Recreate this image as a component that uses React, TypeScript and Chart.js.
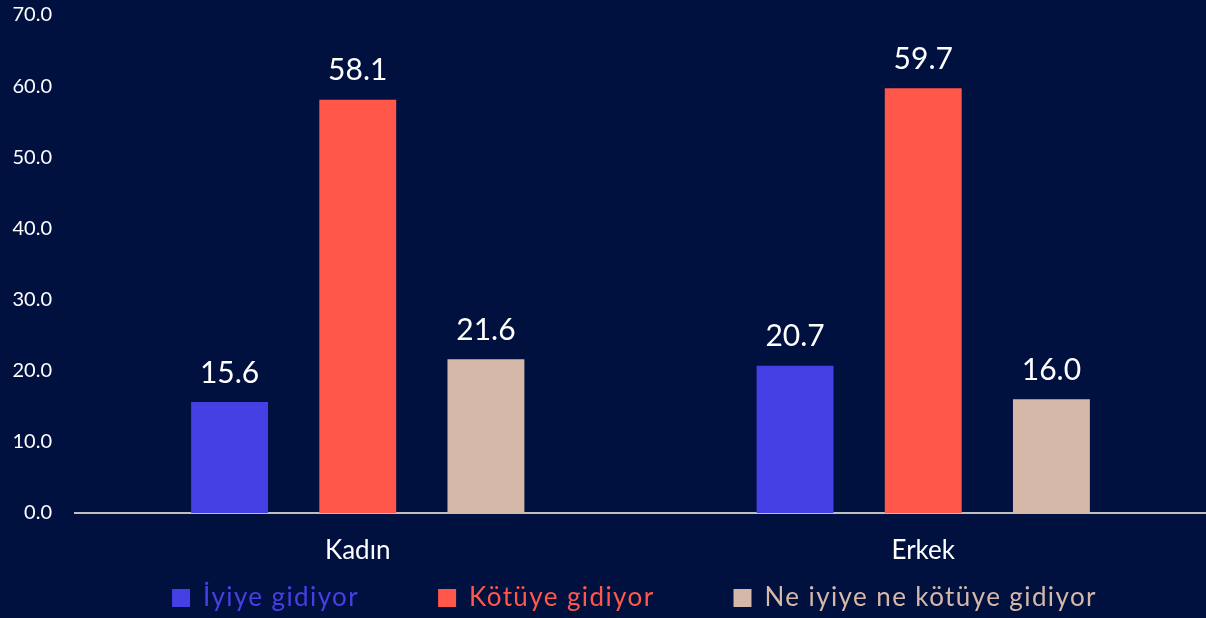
import React, { useEffect, useRef } from "react";
import { Chart, registerables } from "chart.js";

Chart.register(...registerables);

const categories = ["Kadın", "Erkek"];
const seriesNames = ["İyiye gidiyor", "Kötüye gidiyor", "Ne iyiye ne kötüye gidiyor"];
const iyiye = [15.6, 20.7];
const kotuye = [58.1, 59.7];
const neNe = [21.6, 16.0];
const seriesColors = ["#4440E4", "#FF574A", "#D5B8A8"];
const yMin = 0;
const yMax = 70;
const yStep = 10;

const FONT = "Lato, 'Open Sans', sans-serif";
const LEGEND_PAD = 79;
const LEGEND_H = 55;
const X_AXIS_H = 50;
const LEGEND_TEXT_OFFSET = 22;
const LEGEND_SHIFT_X = -6;

const valueLabels = {
  id: "valueLabels",
  afterDatasetsDraw(chart: any) {
    const ctx = chart.ctx;
    ctx.save();
    ctx.fillStyle = "#FFFFFF";
    ctx.font = `30px ${FONT}`;
    ctx.textAlign = "center";
    ctx.textBaseline = "bottom";
    chart.data.datasets.forEach((ds: any, i: number) => {
      const meta = chart.getDatasetMeta(i);
      meta.data.forEach((el: any, j: number) => {
        ctx.fillText(Number(ds.data[j]).toFixed(1), el.x, el.y - 14);
      });
    });
    ctx.restore();
  },
};

const legendTweaks = {
  id: "legendTweaks",
  afterInit(chart: any) {
    const lg = chart.legend;
    if (!lg || lg.__patched) return;
    lg.__patched = true;
    const ctx = chart.ctx;
    const of = lg.fit.bind(lg);
    lg.fit = function () {
      ctx.save();
      ctx.letterSpacing = "1.4px";
      of();
      ctx.restore();
      this.height = LEGEND_H;
    };
    const od = lg.draw.bind(lg);
    lg.draw = function (...args: any[]) {
      const t = this.top;
      const l = this.left;
      const r = this.right;
      this.top = t + LEGEND_TEXT_OFFSET - LEGEND_PAD;
      this.left = l + LEGEND_SHIFT_X;
      this.right = r + LEGEND_SHIFT_X;
      ctx.save();
      ctx.letterSpacing = "1.4px";
      od(...args);
      ctx.restore();
      this.top = t;
      this.left = l;
      this.right = r;
    };
  },
};

export default function App() {
  const ref = useRef<HTMLCanvasElement | null>(null);
  useEffect(() => {
    document.body.style.margin = "0";
    document.body.style.background = "#00103F";
    const canvas = ref.current!;
    const chart = new Chart(canvas, {
      type: "bar",
      data: {
        labels: categories,
        datasets: [iyiye, kotuye, neNe].map((d, i) => ({
          label: seriesNames[i],
          data: d,
          backgroundColor: seriesColors[i],
          borderWidth: 0,
          categoryPercentage: 0.68,
          barPercentage: 0.6,
        })),
      },
      options: {
        responsive: false,
        animation: false,
        layout: { padding: { top: 15, left: 0, right: 0, bottom: 0 } },
        plugins: {
          tooltip: { enabled: false },
          legend: {
            position: "bottom",
            fullSize: false,
            labels: {
              boxWidth: 18,
              boxHeight: 18,
              padding: LEGEND_PAD,
              font: { family: FONT, size: 26 },
              generateLabels(chart: any) {
                return chart.data.datasets.map((ds: any, i: number) => ({
                  text: ds.label,
                  fillStyle: ds.backgroundColor,
                  strokeStyle: ds.backgroundColor,
                  lineWidth: 0,
                  fontColor: ds.backgroundColor,
                  hidden: false,
                  datasetIndex: i,
                }));
              },
            },
          },
        },
        scales: {
          x: {
            grid: { display: false },
            border: { display: true, color: "#BFBFBF", width: 2 },
            ticks: { color: "#FFFFFF", font: { family: FONT, size: 26 }, padding: 14 },
            afterFit(scale: any) {
              scale.height = X_AXIS_H;
              scale.paddingLeft = 0;
              scale.paddingRight = 0;
            },
          },
          y: {
            min: yMin,
            max: yMax,
            grid: { display: false },
            border: { display: false },
            ticks: {
              stepSize: yStep,
              color: "#FFFFFF",
              padding: 15,
              font: { family: FONT, size: 20 },
              callback: (v: any) => Number(v).toFixed(1),
            },
            afterFit(scale: any) {
              scale.width = 75;
              scale.paddingTop = 0;
              scale.paddingBottom = 0;
            },
          },
        },
      },
      plugins: [valueLabels, legendTweaks],
    });
    return () => chart.destroy();
  }, []);
  return (
    <div style={{ position: "fixed", left: 0, top: 0, width: 1206, height: 618, background: "#00103F" }}>
      <canvas ref={ref} width={1206} height={618} style={{ display: "block" }} />
    </div>
  );
}
